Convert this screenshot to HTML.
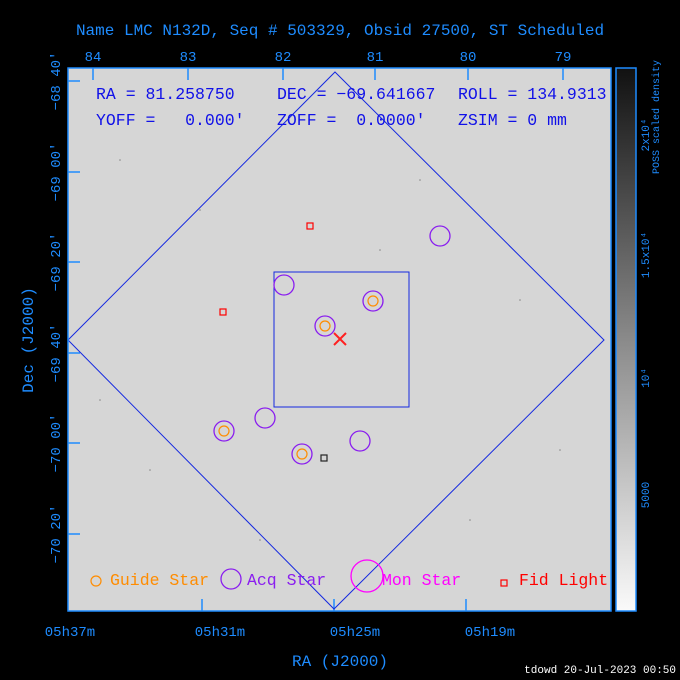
<!DOCTYPE html>
<html><head><meta charset="utf-8"><style>
html,body{margin:0;padding:0;background:#000;overflow:hidden;}
svg{display:block;}
svg text{font-family:"Liberation Mono",monospace;white-space:pre;}
</style></head><body>
<svg width="680" height="680" viewBox="0 0 680 680" xmlns="http://www.w3.org/2000/svg">
<defs>
<linearGradient id="cb" x1="0" y1="1" x2="0" y2="0">
<stop offset="0" stop-color="#fafafa"/><stop offset="0.5" stop-color="#8a8a8a"/><stop offset="1" stop-color="#111"/>
</linearGradient>
</defs>
<rect width="680" height="680" fill="#000"/>
<text x="340" y="35" fill="#1e8cff" font-size="16" text-anchor="middle">Name LMC N132D, Seq # 503329, Obsid 27500, ST Scheduled</text>
<rect x="68" y="68" width="543" height="543" fill="#d6d6d6"/>
<g fill="#888">
<circle cx="120" cy="160" r="0.8"/><circle cx="200" cy="210" r="0.8"/><circle cx="420" cy="180" r="0.8"/><circle cx="520" cy="300" r="0.8"/><circle cx="150" cy="470" r="0.8"/><circle cx="470" cy="520" r="0.8"/><circle cx="560" cy="450" r="0.8"/><circle cx="260" cy="540" r="0.8"/><circle cx="380" cy="250" r="0.8"/><circle cx="100" cy="400" r="0.8"/>
</g>
<g fill="#1e8cff" font-size="14" text-anchor="middle">
<text x="93" y="61">84</text><text x="188" y="61">83</text><text x="283" y="61">82</text><text x="375" y="61">81</text><text x="468" y="61">80</text><text x="563" y="61">79</text>
<text x="70" y="636">05h37m</text><text x="220" y="636">05h31m</text><text x="355" y="636">05h25m</text><text x="490" y="636">05h19m</text>
<text x="340" y="666" font-size="16">RA (J2000)</text>
</g>
<g fill="#1e8cff" font-size="14" text-anchor="middle">
<text transform="translate(60,81) rotate(-90)">−68 40′</text>
<text transform="translate(60,172) rotate(-90)">−69 00′</text>
<text transform="translate(60,262) rotate(-90)">−69 20′</text>
<text transform="translate(60,353) rotate(-90)">−69 40′</text>
<text transform="translate(60,443) rotate(-90)">−70 00′</text>
<text transform="translate(60,534) rotate(-90)">−70 20′</text>
<text transform="translate(33,340) rotate(-90)" font-size="16">Dec (J2000)</text>
</g>
<g stroke="#1e8cff" stroke-width="1.5">
<line x1="68" y1="81" x2="80" y2="81"/><line x1="68" y1="172" x2="80" y2="172"/><line x1="68" y1="262" x2="80" y2="262"/><line x1="68" y1="353" x2="80" y2="353"/><line x1="68" y1="443" x2="80" y2="443"/><line x1="68" y1="534" x2="80" y2="534"/>
<line x1="93" y1="68" x2="93" y2="80"/><line x1="188" y1="68" x2="188" y2="80"/><line x1="283" y1="68" x2="283" y2="80"/><line x1="375" y1="68" x2="375" y2="80"/><line x1="468" y1="68" x2="468" y2="80"/><line x1="563" y1="68" x2="563" y2="80"/>
<line x1="202" y1="611" x2="202" y2="599"/><line x1="334" y1="611" x2="334" y2="599"/><line x1="466" y1="611" x2="466" y2="599"/>
</g>
<path d="M335 72 L604 340 L334 609 L68 340 Z" fill="none" stroke="#1428e0" stroke-width="1"/>
<rect x="274" y="272" width="135" height="135" fill="none" stroke="#1428e0" stroke-width="1"/>
<g fill="none" stroke="#8a1eef" stroke-width="1.3">
<circle cx="440" cy="236" r="10"/><circle cx="284" cy="285" r="10"/><circle cx="373" cy="301" r="10"/><circle cx="325" cy="326" r="10"/><circle cx="265" cy="418" r="10"/><circle cx="224" cy="431" r="10"/><circle cx="302" cy="454" r="10"/><circle cx="360" cy="441" r="10"/>
<circle cx="231" cy="579" r="10"/>
</g>
<g fill="none" stroke="#ff8c00" stroke-width="1.2">
<circle cx="373" cy="301" r="5"/><circle cx="325" cy="326" r="5"/><circle cx="224" cy="431" r="5"/><circle cx="302" cy="454" r="5"/><circle cx="96" cy="581" r="5"/>
</g>
<circle cx="367" cy="576" r="16" fill="none" stroke="#ff00ff" stroke-width="1.3"/>
<g fill="none" stroke="#ff0000" stroke-width="1.2">
<rect x="307" y="223" width="6" height="6"/><rect x="220" y="309" width="6" height="6"/><rect x="501" y="580" width="6" height="6"/>
</g>
<rect x="321" y="455" width="6" height="6" fill="none" stroke="#222" stroke-width="1.2"/>
<path d="M334 333 L346 345 M346 333 L334 345" stroke="#ff2020" stroke-width="2"/>
<g font-size="16.5" fill="#1010e8">
<text x="96" y="99">RA = 81.258750</text>
<text x="277" y="99">DEC = −69.641667</text>
<text x="458" y="99">ROLL = 134.9313</text>
<text x="96" y="125">YOFF =   0.000′</text>
<text x="277" y="125">ZOFF =  0.0000′</text>
<text x="458" y="125">ZSIM = 0 mm</text>
</g>
<g font-size="16.5">
<text x="110" y="585" fill="#ff8c00">Guide Star</text>
<text x="247" y="585" fill="#8a1eef">Acq Star</text>
<text x="382" y="585" fill="#ff00ff">Mon Star</text>
<text x="519" y="585" fill="#ff0000">Fid Light</text>
</g>
<rect x="68" y="68" width="543" height="543" fill="none" stroke="#1e8cff" stroke-width="1.5"/>
<rect x="616" y="68" width="20" height="543" fill="url(#cb)" stroke="#1e8cff" stroke-width="1.5"/>
<g fill="#1e8cff" font-size="11" text-anchor="middle">
<text transform="translate(649,135) rotate(-90)">2x10⁴</text>
<text transform="translate(649,255) rotate(-90)">1.5x10⁴</text>
<text transform="translate(649,378) rotate(-90)">10⁴</text>
<text transform="translate(649,495) rotate(-90)">5000</text>
<text transform="translate(659,117) rotate(-90)" font-size="10">POSS scaled density</text>
</g>
<text x="676" y="673" fill="#fff" font-size="11" text-anchor="end">tdowd 20-Jul-2023 00:50</text>
</svg>
</body></html>
